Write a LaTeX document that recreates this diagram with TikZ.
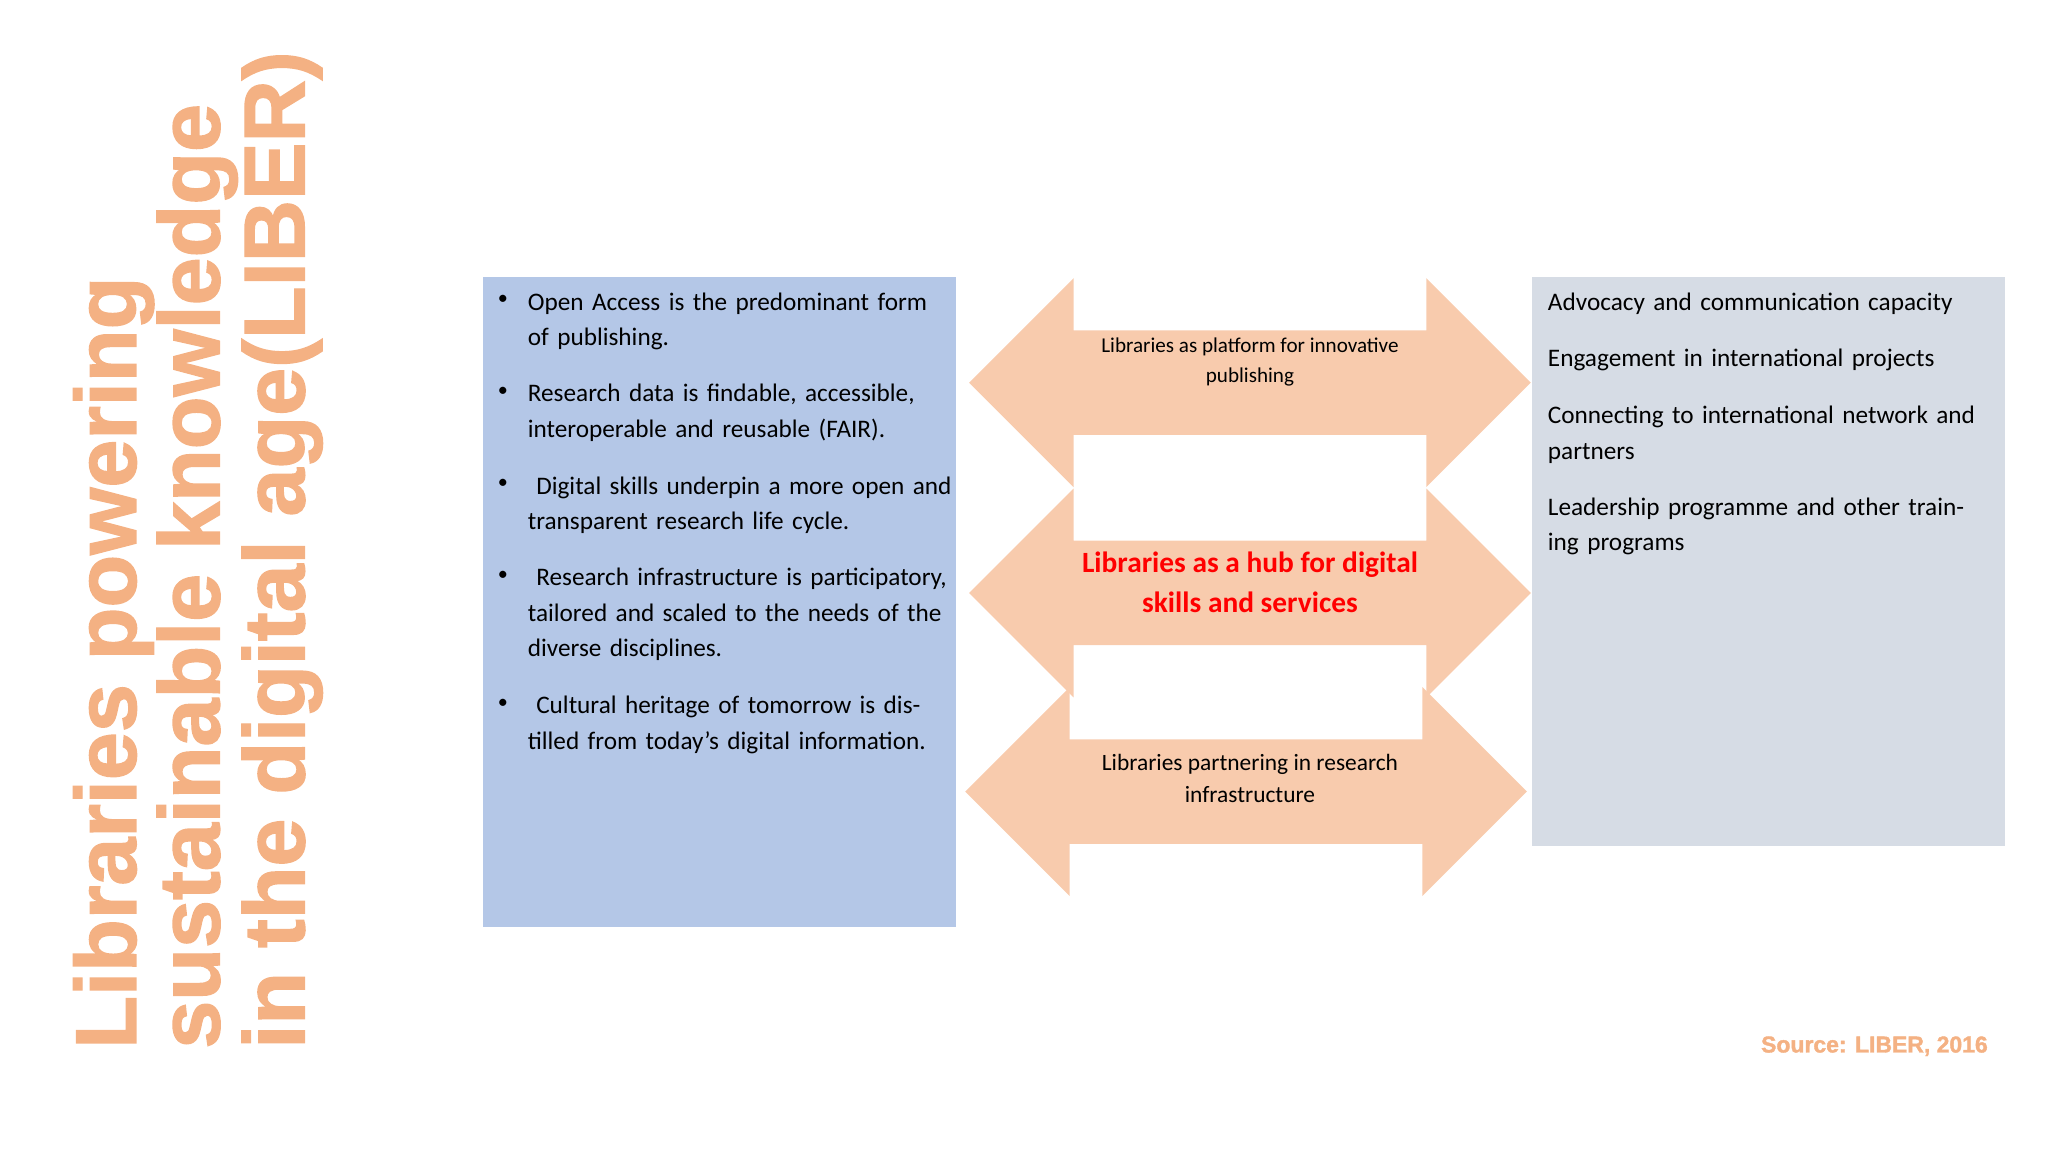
\documentclass[tikz,border=0pt]{standalone}
\usepackage{fontspec}
\setmainfont{Carlito}
\newfontfamily\titlefont[FakeBold=1.6]{Liberation Sans}
\definecolor{tor}{HTML}{F4B183}
\definecolor{arr}{HTML}{F8CBAD}
\definecolor{lbox}{HTML}{B4C7E7}
\definecolor{rbox}{HTML}{D6DCE5}
\newcommand{\nohy}{\hyphenpenalty=10000\relax\exhyphenpenalty=10000\relax\raggedright}
\begin{document}
\begin{tikzpicture}[x=0.05cm,y=-0.05cm,
  title/.style={rotate=90,anchor=base west,font=\titlefont\bfseries\fontsize{94}{94}\selectfont,text=tor,inner sep=0},
  btxt/.style={anchor=north west,text width=16.4cm,align=left,inner sep=0,font=\fontsize{27.5}{38.5}\selectfont},
  bul/.style={anchor=north west,inner sep=0,font=\fontsize{22}{38}\selectfont},
  atxt/.style={align=center,inner sep=0}]
\useasboundingbox (0,0) rectangle (1568,882);
\node[title] (t1) at (104,803) {Libraries powering};
\node[title] (t2) at (168,803) {sustainable knowledge};
\node[title] (t3) at (233,803) {in the digital age(LIBER)};
\fill[lbox] (370,212) rectangle (732,710);
\fill[rbox] (1173,212) rectangle (1535,648);
% arrows
\foreach \cy/\l/\r/\hl/\hr in {293/742/1172/822/1092, 454/742/1172/822/1092, 606/739/1169/819/1089}{
  \fill[arr] (\l,\cy) -- (\hl,\cy-80) -- (\hl,\cy-40) -- (\hr,\cy-40) -- (\hr,\cy-80) -- (\r,\cy)
   -- (\hr,\cy+80) -- (\hr,\cy+40) -- (\hl,\cy+40) -- (\hl,\cy+80) -- cycle;
}
\node[atxt,font=\fontsize{23}{32}\selectfont] (a1) at (957,277) {Libraries as platform for innovative\\publishing};
\node[atxt,font=\bfseries\fontsize{32}{44}\selectfont,text=red] (a2) at (957,446) {Libraries as a hub for digital\\skills and services};
\node[atxt,font=\fontsize{25.5}{34}\selectfont] (a3) at (957,596) {Libraries partnering in research\\infrastructure};
% bullets
\foreach \y/\t [count=\i] in {224/{Open Access is the predominant form of publishing.},
  294/{Research data is findable, accessible, interoperable and reusable (FAIR).},
  365/{\ Digital skills underpin a more open and transparent research life cycle.},
  435/{\ Research infrastructure is participatory, tailored and scaled to the needs of the diverse disciplines.},
  533/{\ Cultural heritage of tomorrow is distilled from today’s digital information.}}{
  \node[bul] (b\i) at (381,\y+2) {\textbullet};
  \node[btxt] (l\i) at (404,\y) {\nohy\t};
}
\foreach \y/\t [count=\i] in {224/{Advocacy and communication capacity},
  267/{Engagement in international projects},
  311/{Connecting to international network and partners},
  381/{Leadership programme and other training programs}}{
  \node[btxt,text width=16.8cm] (r\i) at (1185,\y) {\nohy\t};
}
\node[anchor=east,inner sep=0,text=tor,font=\titlefont\bfseries\fontsize{25}{25}\selectfont] (src) at (1522,801) {Source: LIBER, 2016};
\end{tikzpicture}
\end{document}
